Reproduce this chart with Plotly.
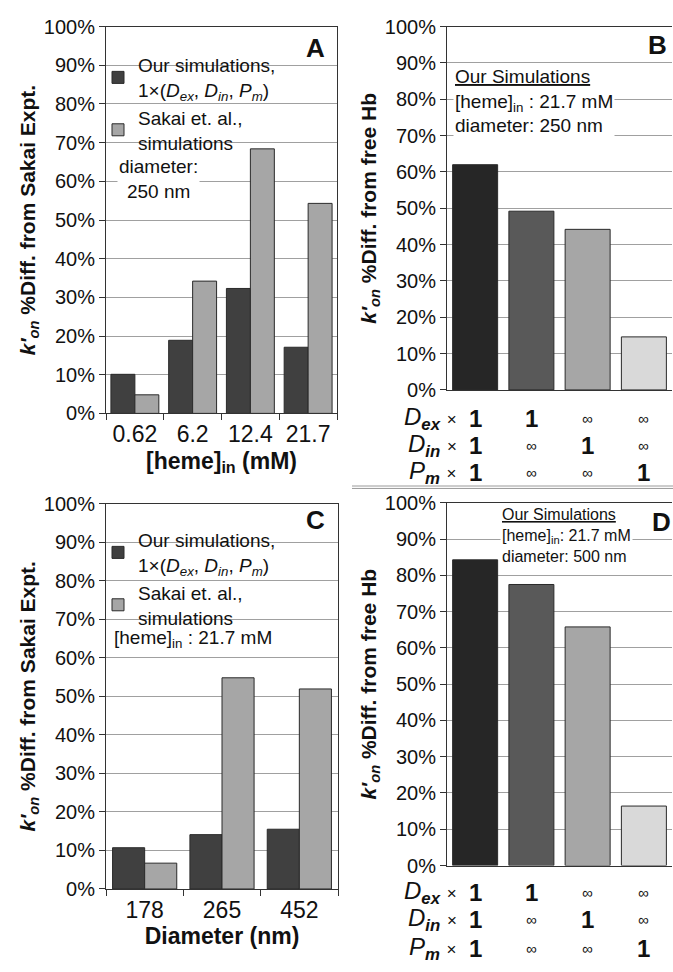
import plotly.graph_objects as go

W, H = 673, 972
def px(x): return x / W
def py(y): return 1 - y / H

# ---------------- data ----------------
heme_cats = ["0.62", "6.2", "12.4", "21.7"]
A_ours = [10.1, 18.9, 32.3, 17.1]
A_sakai = [4.8, 34.2, 68.4, 54.3]

B_cats = ["1,1,1", "1,inf,inf", "inf,1,inf", "inf,inf,1"]
B_vals = [62.0, 49.2, 44.2, 14.6]

diam_cats = ["178", "265", "452"]
C_ours = [10.7, 14.1, 15.5]
C_sakai = [6.7, 54.8, 51.9]

D_cats = ["1,1,1", "1,inf,inf", "inf,1,inf", "inf,inf,1"]
D_vals = [84.3, 77.5, 65.8, 16.4]

Dex_row = ["1", "1", "∞", "∞"]
Din_row = ["1", "∞", "1", "∞"]
Pm_row = ["1", "∞", "∞", "1"]

# ---------------- styles ----------------
FONT = "Liberation Sans, Arial, sans-serif"
OURS = "#404040"
SAKAI = "#a6a6a6"
BCOL = ["#262626", "#595959", "#a6a6a6", "#d9d9d9"]
EDGE = "#2a2a2a"
GRID = "#a0a0a0"
AX = "#333333"

ours_name = "Our simulations,<br>1×(<i>D<sub>ex</sub></i>, <i>D<sub>in</sub></i>, <i>P<sub>m</sub></i>)"
sakai_name = "Sakai et. al.,<br>simulations"

fig = go.Figure()
fig.add_trace(go.Bar(x=heme_cats, y=A_ours, name=ours_name, marker=dict(color=OURS, line=dict(color=EDGE, width=1)),
                     xaxis="x", yaxis="y", legend="legend"))
fig.add_trace(go.Bar(x=heme_cats, y=A_sakai, name=sakai_name, marker=dict(color=SAKAI, line=dict(color=EDGE, width=1)),
                     xaxis="x", yaxis="y", legend="legend"))
fig.add_trace(go.Bar(x=B_cats, y=B_vals, marker=dict(color=BCOL, line=dict(color=EDGE, width=1)), width=0.8,
                     xaxis="x2", yaxis="y2", showlegend=False))
fig.add_trace(go.Bar(x=diam_cats, y=C_ours, name=ours_name, marker=dict(color=OURS, line=dict(color=EDGE, width=1)),
                     xaxis="x3", yaxis="y3", legend="legend2"))
fig.add_trace(go.Bar(x=diam_cats, y=C_sakai, name=sakai_name, marker=dict(color=SAKAI, line=dict(color=EDGE, width=1)),
                     xaxis="x3", yaxis="y3", legend="legend2"))
fig.add_trace(go.Bar(x=D_cats, y=D_vals, marker=dict(color=BCOL, line=dict(color=EDGE, width=1)), width=0.8,
                     xaxis="x4", yaxis="y4", showlegend=False))

yt_A = "<i>k′</i><sub><i>on</i></sub> %Diff. from Sakai Expt."
yt_B = "<i>k′</i><sub><i>on</i></sub> %Diff. from free Hb"

def yaxis(domain, title, mirror):
    return dict(domain=domain, range=[0, 100], dtick=10, ticksuffix="%", showgrid=True, gridcolor=GRID, gridwidth=1,
                showline=True, linecolor=AX, linewidth=1, mirror=mirror, ticks="outside", ticklen=6, tickcolor=AX,
                tickfont=dict(size=20, color="#111"), zeroline=False, fixedrange=True,
                title=dict(text="<b>" + title + "</b>", font=dict(size=21, color="#111"), standoff=2))

def xcat(domain, anchor, title=None, labels=True):
    d = dict(domain=domain, anchor=anchor, showline=True, linecolor=AX, linewidth=1, mirror=True, showgrid=False,
             fixedrange=True)
    if labels:
        d.update(ticks="outside", tickson="boundaries", ticklen=6, tickcolor=AX,
                 tickfont=dict(size=23, color="#111"),
                 title=dict(text="<b>" + title + "</b>", font=dict(size=23, color="#111"), standoff=6))
    else:
        d.update(showticklabels=False, ticks="")
    return d

fig.update_layout(
    width=W, height=H, autosize=False,
    margin=dict(l=0, r=0, t=0, b=0),
    paper_bgcolor="white", plot_bgcolor="white",
    font=dict(family=FONT, color="#111"),
    barmode="group", bargap=0.17, bargroupgap=0,
    xaxis=xcat([px(106), px(337)], "y", "[heme]<sub>in</sub> (mM)"),
    yaxis=yaxis([py(411.7), py(16)], yt_A, True) | dict(anchor="x"),
    xaxis2=xcat([px(447), px(672)], "y2", labels=False),
    yaxis2=yaxis([py(387.7), py(16)], yt_B, False) | dict(anchor="x2"),
    xaxis3=xcat([px(106), px(338)], "y3", "Diameter (nm)"),
    yaxis3=yaxis([py(898.3), py(504)], yt_A, True) | dict(anchor="x3"),
    xaxis4=xcat([px(447), px(672)], "y4", labels=False),
    yaxis4=yaxis([py(874.3), py(503.3)], yt_B, False) | dict(anchor="x4"),
    legend=dict(x=px(98), y=py(36), xanchor="left", yanchor="top", bgcolor="rgba(0,0,0,0)",
                font=dict(size=19, color="#111"), tracegroupgap=0, itemclick=False),
    legend2=dict(x=px(98), y=py(522), xanchor="left", yanchor="top", bgcolor="rgba(0,0,0,0)",
                 font=dict(size=19, color="#111"), tracegroupgap=0, itemclick=False),
    showlegend=True,
)

shapes = []
# white boxes behind legends (hide gridlines)
for (y0, y1) in [(44, 131), (530, 616)]:
    shapes.append(dict(type="rect", xref="paper", yref="paper", x0=px(134), x1=px(292), y0=py(y1), y1=py(y0),
                       fillcolor="white", line=dict(width=0), layer="between"))
# double separator line between B and D
for yy in (486, 488.5):
    shapes.append(dict(type="line", xref="paper", yref="paper", x0=px(352), x1=px(673), y0=py(yy), y1=py(yy),
                       line=dict(color="#9a9a9a", width=1)))
fig.update_layout(shapes=shapes)

ann = []
def note(text, x, y, xanchor="left", yanchor="top", size=19, align="left", bg="white", **kw):
    ann.append(dict(text=text, x=px(x), y=py(y), xref="paper", yref="paper", xanchor=xanchor, yanchor=yanchor,
                    showarrow=False, align=align, bgcolor=bg, borderpad=1,
                    font=dict(family=FONT, size=size, color="#111"), **kw))

# panel letters
note("<b>A</b>", 315, 38, "center", "middle", size=26, bg=None)
note("<b>B</b>", 657, 35, "center", "middle", size=26, bg=None)
note("<b>C</b>", 315, 521, "center", "middle", size=26, bg=None)
note("<b>D</b>", 673, 523, "right", "middle", size=26, bg="white")
# text notes
note("diameter:<br>250 nm", 158, 146, "center", "top", size=19, align="center")
note("[heme]<sub>in</sub> : 21.7 mM", 112, 643, "left", "middle", size=19)
note("<u>Our Simulations</u><br>[heme]<sub>in</sub> : 21.7 mM<br>diameter: 250 nm", 453, 54, size=19)
note("<u>Our Simulations</u><br>[heme]<sub>in</sub>: 21.7 mM<br>diameter: 500 nm", 500, 504, size=16)

# condition tables under B and D
row_labels = ["<i>D</i><sub><b><i>ex</i></b></sub>", "<i>D</i><sub><b><i>in</i></b></sub>",
              "<i>P</i><sub><b><i>m</i></b></sub>"]
rows = [Dex_row, Din_row, Pm_row]
for xref, cats, ys in (("x2", B_cats, (417, 445, 472)), ("x4", D_cats, (902, 930, 959))):
    for lab, vals, yy in zip(row_labels, rows, ys):
        ann.append(dict(text=lab + " <span style='font-size:17px'>×</span>", x=px(459), y=py(yy),
                        xref="paper", yref="paper", xanchor="right", yanchor="middle", showarrow=False,
                        font=dict(family=FONT, size=24, color="#111")))
        for c, v in zip(cats, vals):
            big = (v == "1")
            ann.append(dict(text=("<b>%s</b>" % v) if big else v, x=c, y=py(yy), xref=xref, yref="paper",
                            xanchor="center", yanchor="middle", showarrow=False,
                            font=dict(family=FONT, size=24 if big else 15, color="#111")))
fig.update_layout(annotations=ann)

fig.write_html("out.html", config={"displayModeBar": False},
               post_script="document.body.style.margin='0px';")
